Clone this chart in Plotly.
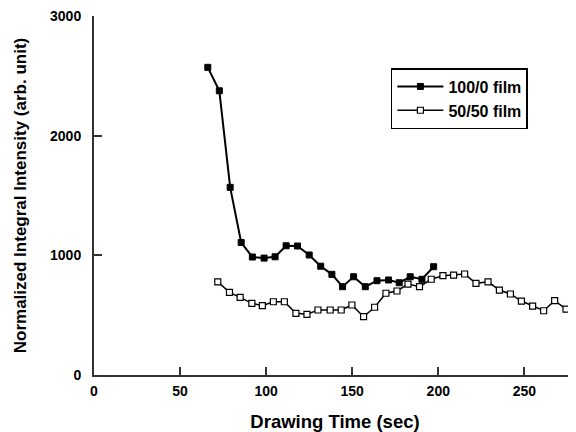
import plotly.graph_objects as go

# 100/0 film
t_100 = [66.1, 72.8, 79.1, 85.5, 92.0, 98.8, 105.2, 111.6, 118.2, 125.0, 131.7,
         138.2, 144.4, 150.8, 157.6, 164.4, 171.1, 177.3, 183.7, 190.5, 197.3]
i_100 = [2571, 2375, 1568, 1107, 986, 977, 988, 1080, 1078, 1003, 909,
         841, 738, 821, 738, 788, 794, 771, 821, 800, 905]

# 50/50 film
t_50 = [71.9, 78.7, 84.9, 91.7, 97.8, 104.2, 110.6, 117.3, 123.7, 130.1, 137.2,
        143.6, 149.8, 156.6, 163.0, 169.6, 176.0, 182.4, 189.1, 195.9, 202.7,
        208.9, 215.3, 221.9, 228.9, 235.5, 241.9, 248.3, 254.8, 261.2, 267.6,
        274.2, 280.0]
i_50 = [779, 691, 649, 599, 579, 612, 612, 515, 507, 543, 543,
        543, 585, 487, 566, 683, 702, 760, 738, 800, 830,
        835, 844, 766, 779, 710, 677, 618, 576, 537, 621,
        551, 535]

x_ticks = [0, 50, 100, 150, 200, 250]
y_ticks = [0, 1000, 2000, 3000]

FONT = "Liberation Sans, Arial, Helvetica, sans-serif"

fig = go.Figure()
fig.add_trace(go.Scatter(
    x=t_100, y=i_100, mode="lines+markers", name="100/0 film",
    line=dict(color="black", width=2),
    marker=dict(symbol="square", size=6, color="black",
                line=dict(color="black", width=1)),
))
fig.add_trace(go.Scatter(
    x=t_50, y=i_50, mode="lines+markers", name="50/50 film",
    line=dict(color="black", width=1.5),
    marker=dict(symbol="square", size=6, color="white",
                line=dict(color="black", width=1.2)),
))

# page body has an 8px margin, so the figure is offset by (8, 8)
fig.update_layout(
    width=568, height=424,
    margin=dict(l=86, r=0, t=8, b=57),
    paper_bgcolor="white", plot_bgcolor="white",
    font=dict(family=FONT, color="black", size=14),
    showlegend=True,
    legend=dict(
        x=0.616, y=0.855, xanchor="left", yanchor="top",
        bordercolor="black", borderwidth=1.5, bgcolor="white",
        font=dict(family=FONT, size=16, weight="bold", color="black"),
        tracegroupgap=0, itemwidth=46,
    ),
)
fig.update_xaxes(
    range=[0, 280], tickvals=x_ticks, ticktext=[str(v) for v in x_ticks],
    showgrid=False, zeroline=False,
    showline=True, linecolor="#333", linewidth=2,
    ticks="inside", ticklen=8, tickwidth=1.5, tickcolor="#333",
    tickfont=dict(family=FONT, size=14, weight="bold"),
    ticklabelstandoff=2, ticklabeloverflow="allow",
    title=dict(text="Drawing Time (sec)", standoff=21,
               font=dict(family=FONT, size=18.5, weight="bold")),
)
fig.update_yaxes(
    range=[0, 3000], tickvals=y_ticks, ticktext=[str(v) for v in y_ticks],
    showgrid=False, zeroline=False,
    showline=True, linecolor="#333", linewidth=2,
    ticks="inside", ticklen=8, tickwidth=1.5, tickcolor="#333",
    tickfont=dict(family=FONT, size=14, weight="bold"),
    ticklabelstandoff=8, ticklabeloverflow="allow",
    title=dict(text="Normalized Integral Intensity (arb. unit)", standoff=19,
               font=dict(family=FONT, size=17, weight="bold")),
)

fig.write_html("out.html")
